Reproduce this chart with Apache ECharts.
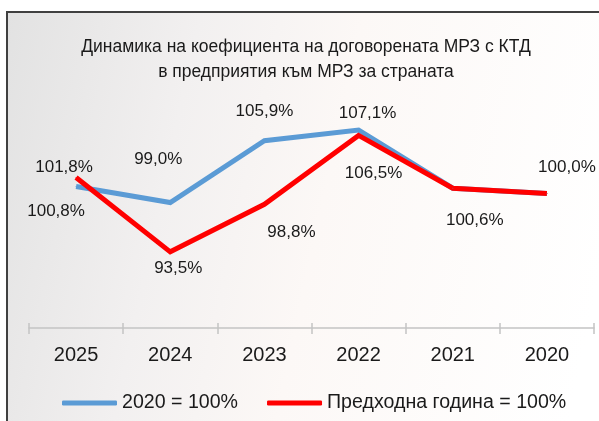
<!DOCTYPE html>
<html>
<head>
<meta charset="utf-8">
<title>МРЗ с КТД</title>
<script src="https://cdn.jsdelivr.net/npm/echarts@6/dist/echarts.min.js"></script>
<style>html,body{margin:0;padding:0;background:#fff;}</style>
</head>
<body>
<div id="main" style="width:599px;height:421px;"></div>
<script>
// values
var years = ['2025', '2024', '2023', '2022', '2021', '2020'];
var base2020 = [100.8, 99.0, 105.9, 107.1, 100.6, 100.0];
var prevYear = [101.8, 93.5, 98.8, 106.5, 100.6, 100.0];
var seriesNames = ['2020 = 100%', 'Предходна година = 100%'];

// where each value label sits relative to its point
var blueShift = [[-20, 25], [-12, -43], [0, -29], [9, -17], [22, 32], [20, -26]];
var redShift = [[-12, -10], [8, 16], [27, 28], [15, 38], null, null];

var FONT = "'Liberation Sans', Arial, sans-serif";

function fmt(p) {
    return p.value.toFixed(1).replace('.', ',') + '%';
}

function buildData(values, shifts) {
    return values.map(function (v, i) {
        var s = shifts[i];
        return {
            value: v,
            label: s ? { show: true, offset: s } : { show: false }
        };
    });
}

function lineSeries(name, values, shifts, color, width) {
    return {
        name: name,
        type: 'line',
        data: buildData(values, shifts),
        symbol: 'circle',
        symbolSize: 1,
        itemStyle: { color: color },
        lineStyle: { color: color, width: width, cap: 'butt', join: 'miter' },
        label: {
            show: true,
            position: 'inside',
            formatter: fmt,
            color: '#1a1a1a',
            fontSize: 17,
            fontFamily: FONT
        },
        emphasis: { disabled: true },
        animation: false
    };
}

var chart = echarts.init(document.getElementById('main'));

chart.setOption({
    animation: false,
    backgroundColor: '#ffffff',
    graphic: [{
        type: 'rect',
        z: -10,
        silent: true,
        shape: { x: 7, y: 12, width: 620, height: 440 },
        style: {
            fill: new echarts.graphic.LinearGradient(0, 0, 1, 0.3, [
                { offset: 0, color: '#e2e2e2' },
                { offset: 0.3, color: '#f2f0f0' },
                { offset: 0.55, color: '#fcf8f6' },
                { offset: 1, color: '#ffffff' }
            ]),
            stroke: '#404040',
            lineWidth: 2
        }
    }],
    title: {
        text: 'Динамика на коефициента на договорената МРЗ с КТД\nв предприятия към МРЗ за страната',
        left: 301,
        top: 30,
        textAlign: 'center',
        textStyle: {
            fontFamily: FONT,
            fontSize: 17.5,
            fontWeight: 'normal',
            color: '#1a1a1a',
            lineHeight: 25
        }
    },
    legend: {
        data: seriesNames,
        top: 392,
        left: 62,
        padding: 0,
        itemWidth: 55,
        itemHeight: 5,
        itemGap: 29,
        icon: 'roundRect',
        textStyle: {
            fontFamily: FONT,
            fontSize: 19.6,
            color: '#1a1a1a',
            lineHeight: 22
        }
    },
    grid: { left: 29, right: 5, top: 104, bottom: 93 },
    xAxis: [{
        type: 'category',
        data: years,
        boundaryGap: true,
        axisLine: { lineStyle: { color: '#c4c4c4', width: 1.5 } },
        axisTick: { show: true, length: 6, lineStyle: { color: '#c4c4c4', width: 1.5 } },
        axisLabel: {
            margin: 17,
            fontFamily: FONT,
            fontSize: 20,
            color: '#1a1a1a'
        }
    }, {
        type: 'category',
        data: years,
        position: 'bottom',
        boundaryGap: true,
        axisLine: { show: false },
        axisTick: { show: true, inside: true, length: 5, lineStyle: { color: '#c4c4c4', width: 1.5 } },
        axisLabel: { show: false }
    }],
    yAxis: {
        type: 'value',
        min: 85,
        max: 110,
        show: false
    },
    series: [
        lineSeries(seriesNames[0], base2020, blueShift, '#5b9bd5', 5),
        lineSeries(seriesNames[1], prevYear, redShift, '#ff0000', 5)
    ]
});
</script>
</body>
</html>
